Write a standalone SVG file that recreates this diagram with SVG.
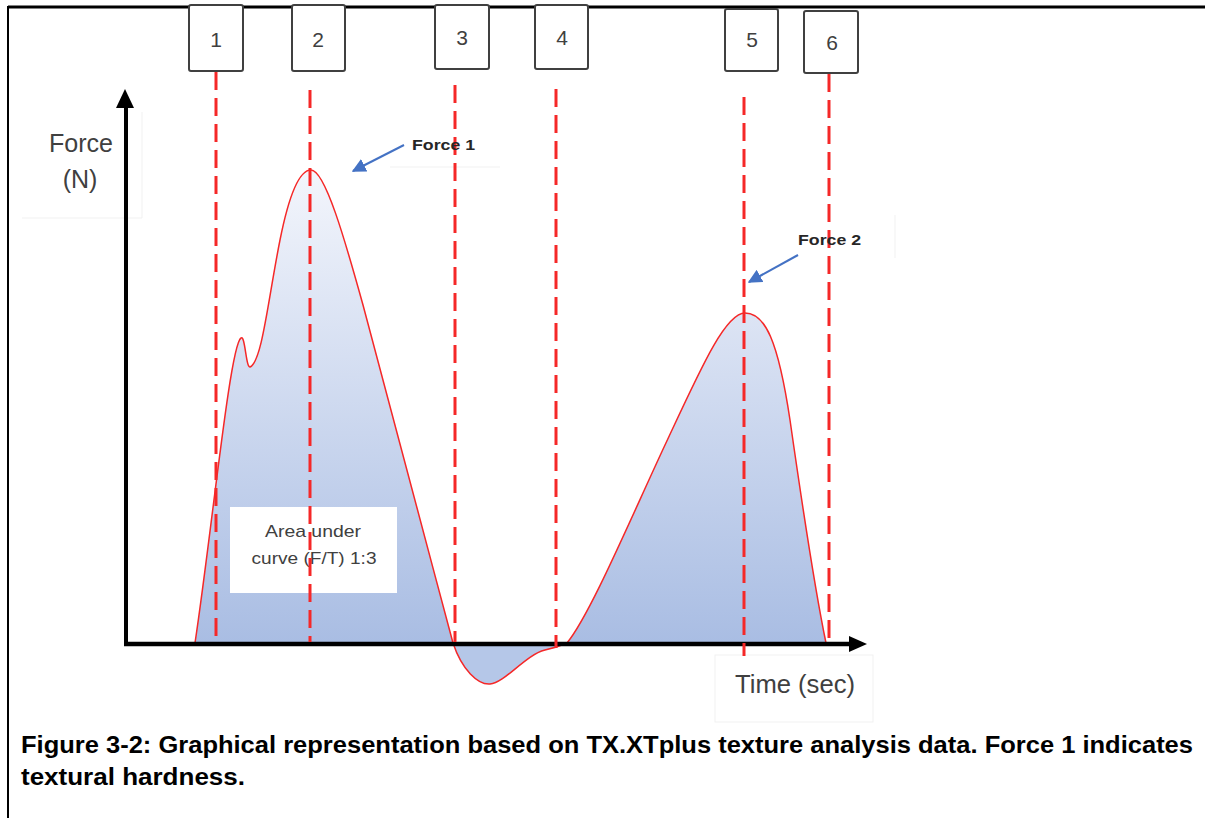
<svg xmlns="http://www.w3.org/2000/svg" width="1205" height="818" viewBox="0 0 1205 818">
<style>
.box{fill:#fff;stroke:#404040;stroke-width:2}
.num{font-family:"Liberation Sans",Arial,sans-serif;font-size:21px;fill:#404040;text-anchor:middle}
.dash{stroke:#f52828;stroke-width:3;stroke-dasharray:18 8;fill:none}
.lbl{font-family:"Liberation Sans",Arial,sans-serif;fill:#404040}
.bold{font-family:"Liberation Sans",Arial,sans-serif;font-weight:bold;fill:#262626}
.faint{fill:none;stroke:#f1f1f1;stroke-width:1}
.blue{stroke:#4472c4;stroke-width:2;fill:none}
</style>
<defs>
<linearGradient id="g" gradientUnits="userSpaceOnUse" x1="0" y1="165" x2="0" y2="643">
<stop offset="0" stop-color="#f4f6fc"/>
<stop offset="1" stop-color="#a9bde3"/>
</linearGradient>
<marker id="ab" viewBox="0 0 10 10" refX="9" refY="5" markerWidth="7" markerHeight="7" orient="auto" markerUnits="strokeWidth">
<path d="M0,0 L10,5 L0,10 z" fill="#4472c4"/>
</marker>
</defs>
<rect width="1205" height="818" fill="#fff"/>
<g id="frame">
<line x1="8" y1="7" x2="1205" y2="7" stroke="#000" stroke-width="3"/>
<line x1="8" y1="6" x2="8" y2="818" stroke="#000" stroke-width="2"/>
</g>
<g id="faint-boxes">
<polyline class="faint" points="22,218 142,218 142,112"/>
<line class="faint" x1="390" y1="167" x2="500" y2="167"/>
<line class="faint" x1="895" y1="215" x2="895" y2="258"/>
<rect class="faint" x="715" y="655" width="158" height="67"/>
</g>
<g id="curve">
<path d="M195,643 C212,530 230,345 241,338 C245,334 246,368 250,367 C262,362 268,300 280,240 C290,190 300,170 311,170 C325,170 345,240 363,305 C385,385 420,520 453,643 C462,670 478,685 490,684 C505,683 525,655 545,650 C555,648 560,646 567,643 C590,615 630,520 665,445 C700,370 725,313 745,313 C765,313 778,340 790,420 C800,490 815,590 826,643 Z" fill="url(#g)" stroke="none"/>
<path d="M453,643 C462,670 478,685 490,684 C505,683 525,655 545,650 C555,648 560,646 567,643 Z" fill="#b5c7e8" stroke="none"/>
<path d="M195,643 C212,530 230,345 241,338 C245,334 246,368 250,367 C262,362 268,300 280,240 C290,190 300,170 311,170 C325,170 345,240 363,305 C385,385 420,520 453,643 C462,670 478,685 490,684 C505,683 525,655 545,650 C555,648 560,646 567,643 C590,615 630,520 665,445 C700,370 725,313 745,313 C765,313 778,340 790,420 C800,490 815,590 826,643" fill="none" stroke="#f52828" stroke-width="1.5"/>
</g>
<g id="area-label">
<rect x="230" y="507" width="167" height="86" fill="#fff"/>
<text class="lbl" font-size="17" x="313" y="537" text-anchor="middle" textLength="96" lengthAdjust="spacingAndGlyphs">Area under</text>
<text class="lbl" font-size="17" x="314" y="564" text-anchor="middle" textLength="125" lengthAdjust="spacingAndGlyphs">curve (F/T) 1:3</text>
</g>
<g id="axes">
<line x1="126" y1="646" x2="126" y2="104" stroke="#000" stroke-width="4"/>
<path d="M125,89 L134,108 L116,108 z" fill="#000"/>
<line x1="124" y1="644" x2="852" y2="644" stroke="#000" stroke-width="4.5"/>
<path d="M867,644 L849,636 L849,652 z" fill="#000"/>
</g>
<g id="markers">
<line class="dash" x1="216" y1="72" x2="216" y2="642"/>
<line class="dash" x1="310" y1="90" x2="310" y2="642"/>
<line class="dash" x1="455" y1="85" x2="455" y2="642"/>
<line class="dash" x1="556" y1="89" x2="556" y2="648"/>
<line class="dash" x1="744" y1="97" x2="744" y2="656"/>
<line class="dash" x1="829" y1="74" x2="829" y2="642"/>
</g>
<g id="box1"><rect class="box" x="189" y="5" width="54" height="66" rx="2"/><text class="num" x="216" y="47">1</text></g>
<g id="box2"><rect class="box" x="292" y="5" width="53" height="66" rx="2"/><text class="num" x="318" y="47">2</text></g>
<g id="box3"><rect class="box" x="435" y="5" width="54" height="64" rx="2"/><text class="num" x="462" y="45">3</text></g>
<g id="box4"><rect class="box" x="535" y="5" width="53" height="64" rx="2"/><text class="num" x="562" y="45">4</text></g>
<g id="box5"><rect class="box" x="725" y="9" width="53" height="62" rx="2"/><text class="num" x="752" y="47">5</text></g>
<g id="box6"><rect class="box" x="804" y="11" width="54" height="62" rx="2"/><text class="num" x="832" y="50">6</text></g>
<g id="force1">
<text class="bold" font-size="15" x="412" y="150" textLength="63" lengthAdjust="spacingAndGlyphs">Force 1</text>
<line class="blue" x1="404" y1="145" x2="353" y2="171" marker-end="url(#ab)"/>
</g>
<g id="force2">
<text class="bold" font-size="15" x="798" y="245" textLength="63" lengthAdjust="spacingAndGlyphs">Force 2</text>
<line class="blue" x1="798" y1="255" x2="749" y2="282" marker-end="url(#ab)"/>
</g>
<g id="axis-labels">
<text class="lbl" font-size="25" x="49" y="152" textLength="64" lengthAdjust="spacingAndGlyphs">Force</text>
<text class="lbl" font-size="25" x="80" y="188" text-anchor="middle">(N)</text>
<text class="lbl" font-size="25" x="735" y="693" textLength="120" lengthAdjust="spacingAndGlyphs">Time (sec)</text>
</g>
<g id="caption">
<text class="bold" font-size="23" x="21" y="753" style="fill:#000" textLength="1172" lengthAdjust="spacingAndGlyphs">Figure 3-2: Graphical representation based on TX.XTplus texture analysis data. Force 1 indicates</text>
<text class="bold" font-size="23" x="21" y="785" style="fill:#000" textLength="224" lengthAdjust="spacingAndGlyphs">textural hardness.</text>
</g>
</svg>
